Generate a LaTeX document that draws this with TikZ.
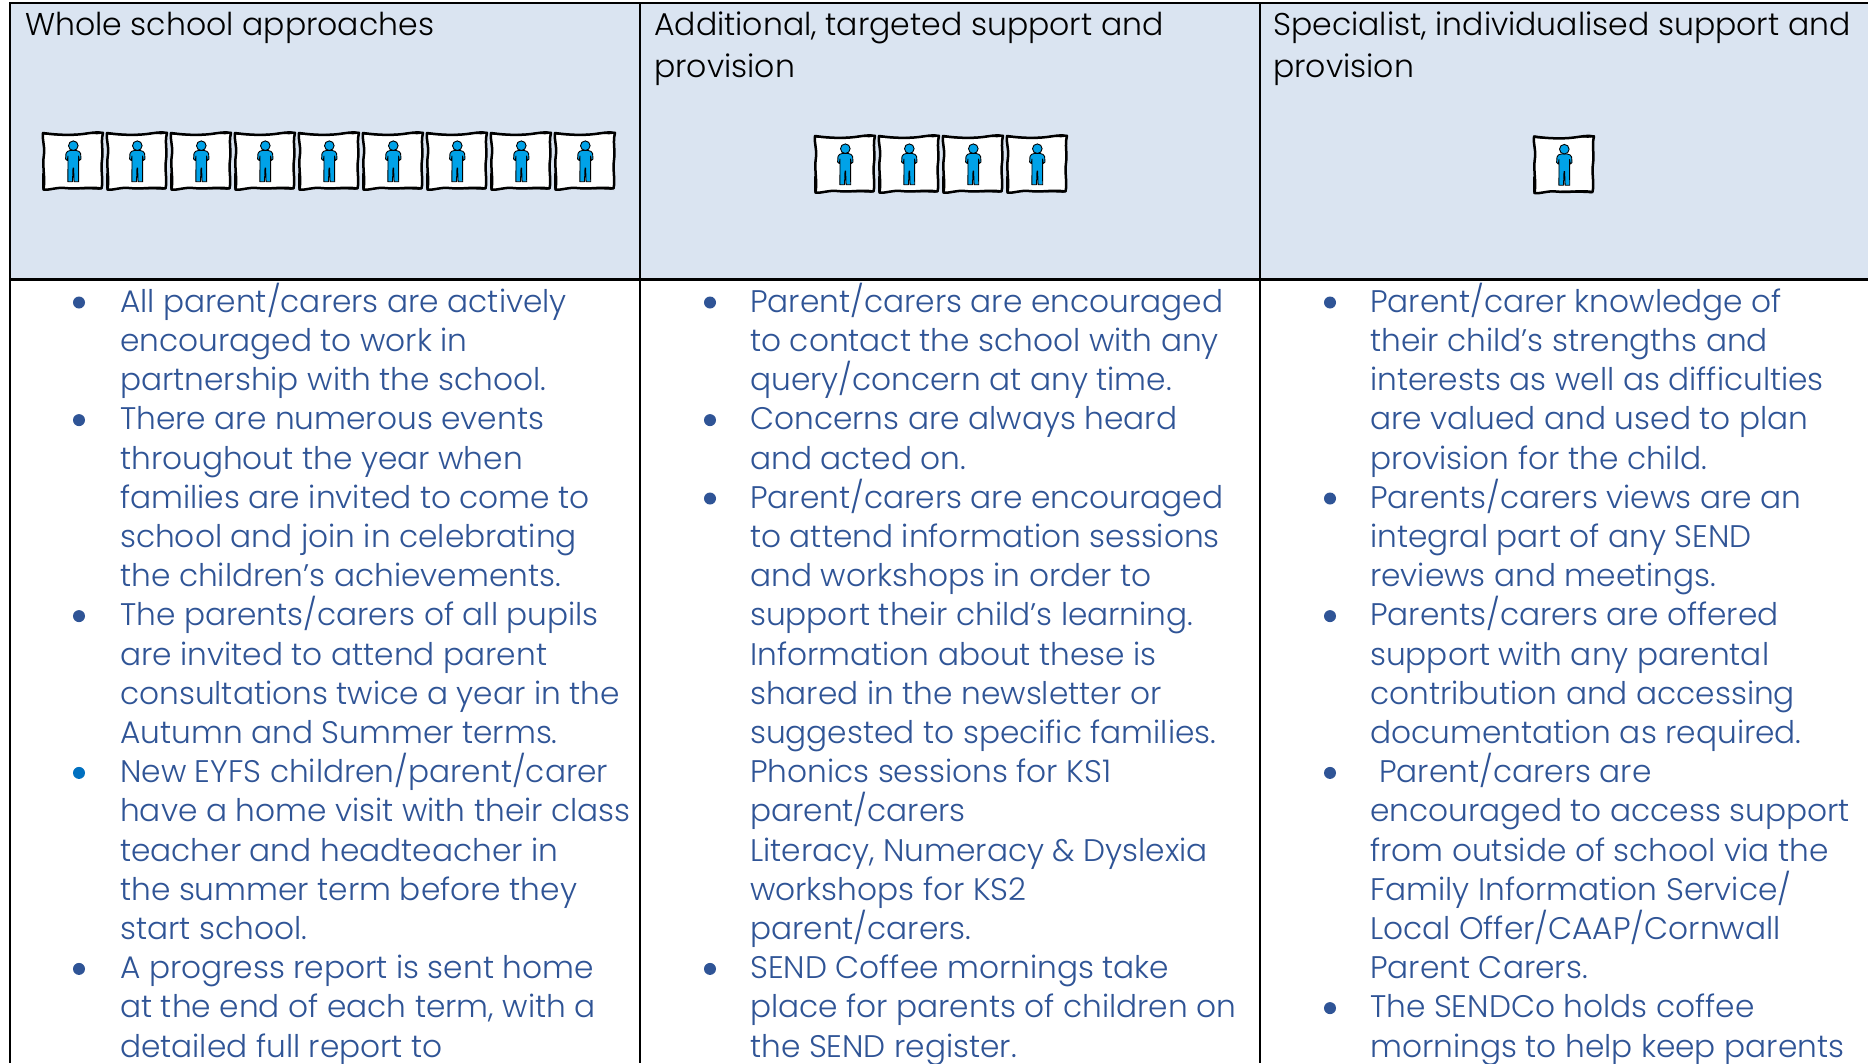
\documentclass[tikz,border=0pt]{standalone}
\usepackage{fontspec}
\setmainfont{Poppins Light}
\definecolor{headfill}{HTML}{DAE4F1}
\definecolor{bodyblue}{HTML}{2F5496}
\definecolor{altblue}{HTML}{0070C0}
\definecolor{figblue}{HTML}{00A2E8}
\newcommand{\fl}{\rule{0pt}{34pt}}
\tikzset{
  bodytxt/.style={anchor=north west,inner sep=0pt,align=left,text=bodyblue,font=\fontsize{31.2}{39.2}\selectfont},
  headtxt/.style={anchor=north west,inner sep=0pt,align=left,text=black,font=\fontsize{31.5}{42}\selectfont},
  bul/.style={circle,fill=bodyblue,minimum size=12,inner sep=0pt},
  gridline/.style={black,line width=2.4},
  pics/person/.style={code={
    \path[fill=white,draw=black,line width=2.5,line join=round]
      (0,1) .. controls (14,3) and (28,3.5) .. (40,2) .. controls (48,1) and (54,-0.5) .. (60,1)
      .. controls (57.5,10) and (60.5,18) .. (59,28) .. controls (57.5,38) and (60.5,48) .. (58.5,56.5)
      .. controls (45,54.5) and (35,57.5) .. (22,56) .. controls (14,55) and (6,58.5) .. (0.5,57.5)
      .. controls (2.5,45) and (-1,35) .. (1,22) .. controls (2,14) and (-1,8) .. (0,1) -- cycle;
    \path[fill=black] (0,0) .. controls (12,2.5) and (24,2.5) .. (34,1.5) .. controls (22,4) and (10,3.5) .. (0,2.5) -- cycle;
    \path[fill=black] (42,0.8) .. controls (48,0.8) and (54,-1) .. (61,0) .. controls (60,3) and (50,2.8) .. (42,0.8) -- cycle;
    \path[fill=black] (-1,40) .. controls (-1,47) and (-1,53) .. (-0.8,58) .. controls (2,50) and (1.5,44) .. (-1,40) -- cycle;
    \path[fill=black] (14,56) .. controls (28,55) and (44,54) .. (59,58) .. controls (44,56.8) and (28,57.8) .. (14,56) -- cycle;
    \path[fill=figblue,draw=black,line width=0.9,line join=round]
      (27.3,18.5) .. controls (25,19) and (23.5,19.5) .. (23,21.5) -- (22.6,27) -- (24.3,28.5) -- (25,24)
      -- (24.9,49.7) -- (29.5,49.7) -- (30,36) -- (30.6,36) -- (31.1,49.7) -- (35.7,49.7)
      -- (35.6,24) -- (36.3,28.5) -- (38,27) -- (37.6,21.5) .. controls (37,19.5) and (35.5,19) .. (33.3,18.5) -- cycle;
    \path[fill=figblue,draw=black,line width=0.9] (30.3,13.7) circle (4.8);
  }}
}
\newcommand{\bodyY}[1]{{278+39.2*#1}}
\newcommand{\bulY}[1]{{302.5+39.2*#1}}
\begin{document}
\begin{tikzpicture}[x=1pt,y=-1pt]
\useasboundingbox (0,0) rectangle (1868,1063);
\clip (0,0) rectangle (1868,1063);
\fill[white] (0,0) rectangle (1868,1063);
\fill[headfill] (10,3) rectangle (1868,279.5);
\draw[gridline] (1868,3) -- (10,3) -- (10,1063);
\draw[gridline] (10,279.5) -- (1868,279.5);
\draw[gridline] (640,3) -- (640,1063);
\draw[gridline] (1260,3) -- (1260,1063);

\node[headtxt] (h1) at (25,1) {\fl Whole school approaches};
\node[headtxt] (h2) at (654,1) {\fl Additional, targeted support and\\provision};
\node[headtxt] (h3) at (1273,1) {\fl Specialist, individualised support and\\provision};

\foreach \i in {0,...,8} \pic at ({43+64*\i},132) {person};
\foreach \i in {0,...,3} \pic at ({815+64*\i},135) {person};
\pic at (1534,135.5) {person};

% column 1
\foreach \n/\l in {a/0,b/3,c/8,e/17} \node[bul] (bul1\n) at (79,\bulY{\l}) {};
\node[bul,fill=altblue] (bul1d) at (79,\bulY{12}) {};
\node[bodytxt] (t1a) at (120,\bodyY{0}) {\fl All parent/carers are actively\\encouraged to work in\\partnership with the school.};
\node[bodytxt] (t1b) at (120,\bodyY{3}) {\fl There are numerous events\\throughout the year when\\families are invited to come to\\school and join in celebrating\\the children’s achievements.};
\node[bodytxt] (t1c) at (120,\bodyY{8}) {\fl The parents/carers of all pupils\\are invited to attend parent\\consultations twice a year in the\\Autumn and Summer terms.};
\node[bodytxt] (t1d) at (120,\bodyY{12}) {\fl New EYFS children/parent/carer\\have a home visit with their class\\teacher and headteacher in\\the summer term before they\\start school.};
\node[bodytxt] (t1e) at (120,\bodyY{17}) {\fl A progress report is sent home\\at the end of each term, with a\\detailed full report to};

% column 2
\foreach \n/\l in {a/0,b/3,c/5,d/17} \node[bul] (bul2\n) at (710,\bulY{\l}) {};
\node[bodytxt] (t2a) at (750,\bodyY{0}) {\fl Parent/carers are encouraged\\to contact the school with any\\query/concern at any time.};
\node[bodytxt] (t2b) at (750,\bodyY{3}) {\fl Concerns are always heard\\and acted on.};
\node[bodytxt] (t2c) at (750,\bodyY{5}) {\fl Parent/carers are encouraged\\to attend information sessions\\and workshops in order to\\support their child’s learning.\\Information about these is\\shared in the newsletter or\\suggested to specific families.\\Phonics sessions for KS1\\parent/carers\\Literacy, Numeracy \& Dyslexia\\workshops for KS2\\parent/carers.};
\node[bodytxt] (t2d) at (750,\bodyY{17}) {\fl SEND Coffee mornings take\\place for parents of children on\\the SEND register.};

% column 3
\foreach \n/\l in {a/0,b/5,c/8,d/12,e/18} \node[bul] (bul3\n) at (1330,\bulY{\l}) {};
\node[bodytxt] (t3a) at (1370,\bodyY{0}) {\fl Parent/carer knowledge of\\their child’s strengths and\\interests as well as difficulties\\are valued and used to plan\\provision for the child.};
\node[bodytxt] (t3b) at (1370,\bodyY{5}) {\fl Parents/carers views are an\\integral part of any SEND\\reviews and meetings.};
\node[bodytxt] (t3c) at (1370,\bodyY{8}) {\fl Parents/carers are offered\\support with any parental\\contribution and accessing\\documentation as required.};
\node[bodytxt] (t3d) at (1370,\bodyY{12}) {\fl\hspace*{9pt}Parent/carers are\\encouraged to access support\\from outside of school via the\\Family Information Service/\\Local Offer/CAAP/Cornwall\\Parent Carers.};
\node[bodytxt] (t3e) at (1370,\bodyY{18}) {\fl The SENDCo holds coffee\\mornings to help keep parents};
\end{tikzpicture}
\end{document}
